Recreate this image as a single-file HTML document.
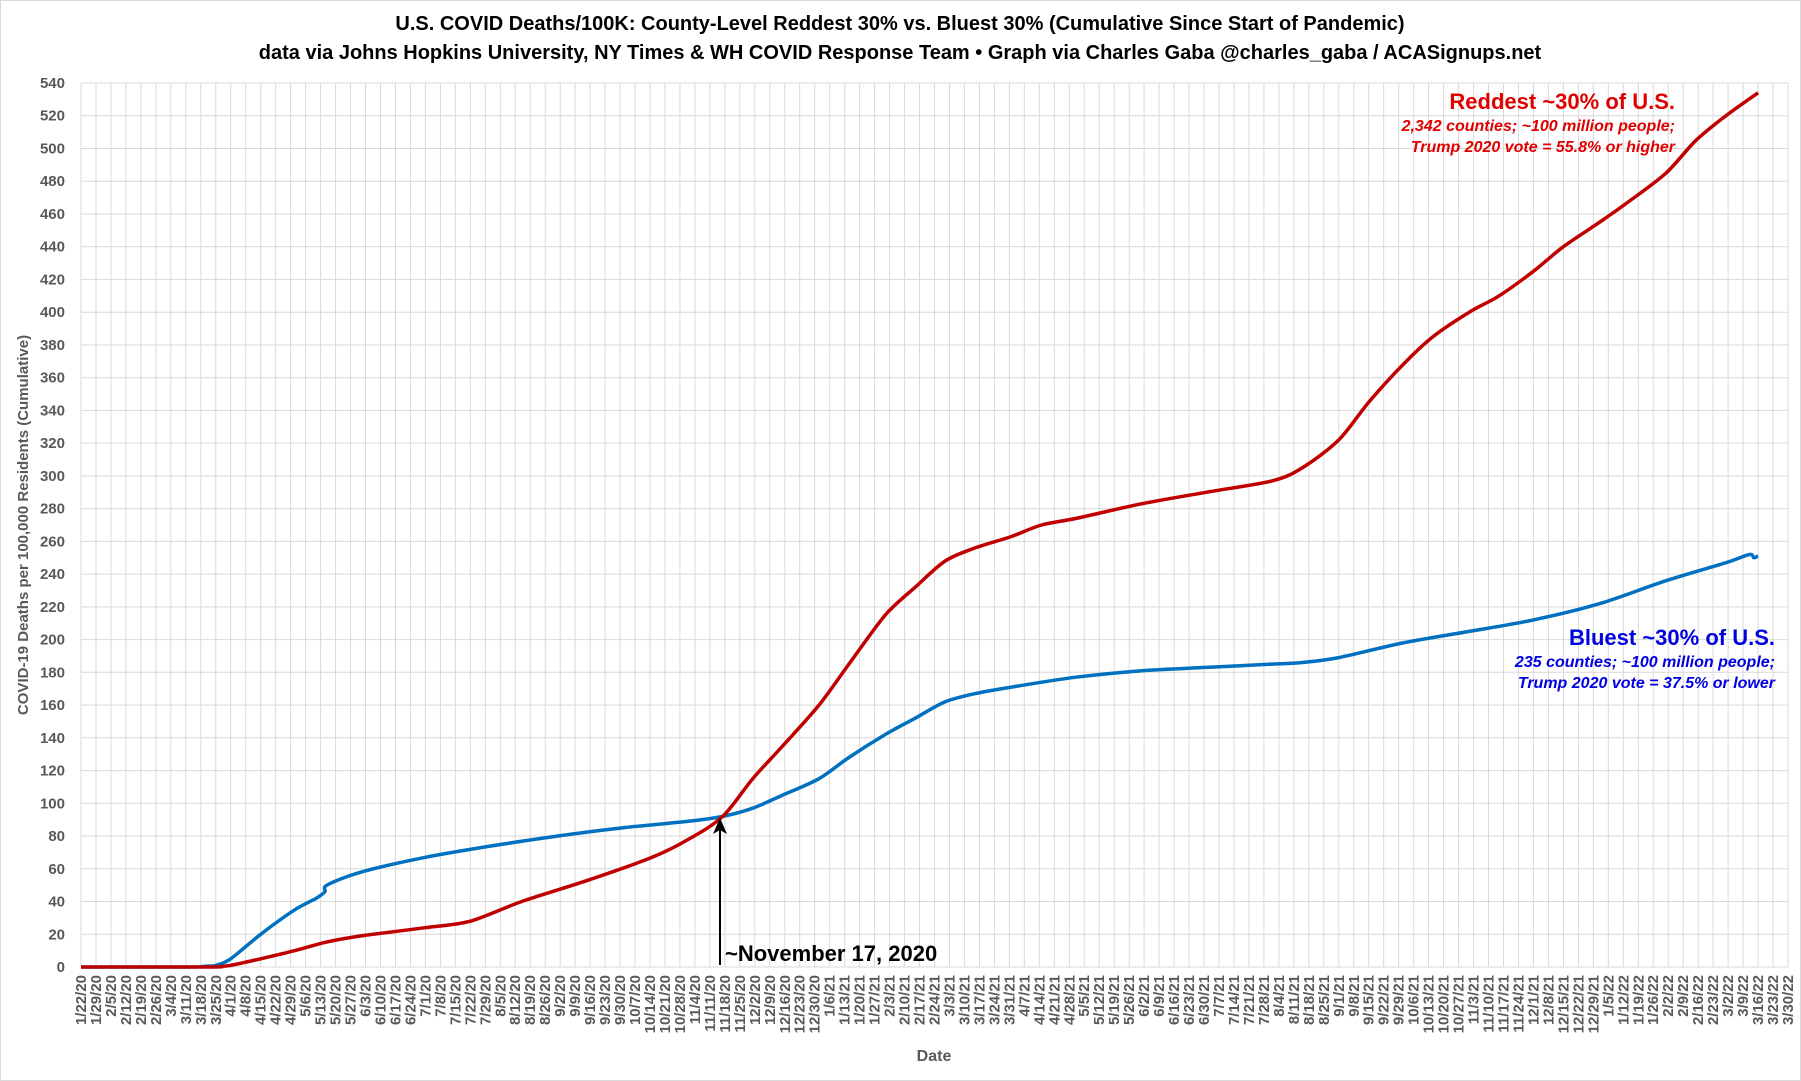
<!DOCTYPE html>
<html><head><meta charset="utf-8"><style>
html,body{margin:0;padding:0;background:#fff}
svg{display:block}
text{font-family:"Liberation Sans",sans-serif}
</style></head><body>
<svg id="s" width="1801" height="1081" xmlns="http://www.w3.org/2000/svg">
<rect x="0.5" y="0.5" width="1800" height="1080" fill="#fff" stroke="#d9d9d9"/>
<g id="grid" stroke="#d9d9d9" stroke-width="1"></g>
<g id="ylab" font-size="15" font-weight="bold" fill="#595959" text-anchor="end"></g>
<g id="xlab" font-size="15" font-weight="bold" fill="#595959" text-anchor="end" transform="rotate(-90)">
1/22/20,1/29/20,2/5/20,2/12/20,2/19/20,2/26/20,3/4/20,3/11/20,3/18/20,3/25/20,4/1/20,4/8/20,4/15/20,4/22/20,4/29/20,5/6/20,5/13/20,5/20/20,5/27/20,6/3/20,6/10/20,6/17/20,6/24/20,7/1/20,7/8/20,7/15/20,7/22/20,7/29/20,8/5/20,8/12/20,8/19/20,8/26/20,9/2/20,9/9/20,9/16/20,9/23/20,9/30/20,10/7/20,10/14/20,10/21/20,10/28/20,11/4/20,11/11/20,11/18/20,11/25/20,12/2/20,12/9/20,12/16/20,12/23/20,12/30/20,1/6/21,1/13/21,1/20/21,1/27/21,2/3/21,2/10/21,2/17/21,2/24/21,3/3/21,3/10/21,3/17/21,3/24/21,3/31/21,4/7/21,4/14/21,4/21/21,4/28/21,5/5/21,5/12/21,5/19/21,5/26/21,6/2/21,6/9/21,6/16/21,6/23/21,6/30/21,7/7/21,7/14/21,7/21/21,7/28/21,8/4/21,8/11/21,8/18/21,8/25/21,9/1/21,9/8/21,9/15/21,9/22/21,9/29/21,10/6/21,10/13/21,10/20/21,10/27/21,11/3/21,11/10/21,11/17/21,11/24/21,12/1/21,12/8/21,12/15/21,12/22/21,12/29/21,1/5/22,1/12/22,1/19/22,1/26/22,2/2/22,2/9/22,2/16/22,2/23/22,3/2/22,3/9/22,3/16/22,3/23/22,3/30/22</g>
<path id="blue" fill="none" stroke="#0070c0" stroke-width="3.5" stroke-linejoin="round"/>
<path id="red" fill="none" stroke="#c00000" stroke-width="3.5" stroke-linejoin="round"/>
<line x1="720" y1="965" x2="720" y2="826" stroke="#000" stroke-width="2"/>
<polygon points="720,818 713,834 720,830 727,834" fill="#000"/>
<text x="725" y="961" font-size="22" font-weight="bold">~November 17, 2020</text>
<text x="900" y="30" font-size="20" font-weight="bold" text-anchor="middle">U.S. COVID Deaths/100K: County-Level Reddest 30% vs. Bluest 30% (Cumulative Since Start of Pandemic)</text>
<text x="900" y="59" font-size="20" font-weight="bold" text-anchor="middle">data via Johns Hopkins University, NY Times &amp; WH COVID Response Team • Graph via Charles Gaba @charles_gaba / ACASignups.net</text>
<text x="1675" y="109" font-size="22" font-weight="bold" fill="#e00000" text-anchor="end">Reddest ~30% of U.S.</text>
<text x="1675" y="131" font-size="16" font-weight="bold" font-style="italic" fill="#e00000" text-anchor="end">2,342 counties; ~100 million people;</text>
<text x="1675" y="152" font-size="16" font-weight="bold" font-style="italic" fill="#e00000" text-anchor="end">Trump 2020 vote = 55.8% or higher</text>
<text x="1775" y="645" font-size="22" font-weight="bold" fill="#0000e0" text-anchor="end">Bluest ~30% of U.S.</text>
<text x="1775" y="667" font-size="16" font-weight="bold" font-style="italic" fill="#0000e0" text-anchor="end">235 counties; ~100 million people;</text>
<text x="1775" y="688" font-size="16" font-weight="bold" font-style="italic" fill="#0000e0" text-anchor="end">Trump 2020 vote = 37.5% or lower</text>
<text transform="translate(28,525) rotate(-90)" font-size="15" font-weight="bold" fill="#595959" text-anchor="middle">COVID-19 Deaths per 100,000 Residents (Cumulative)</text>
<text x="934" y="1061" font-size="16" font-weight="bold" fill="#595959" text-anchor="middle">Date</text>
</svg>
<script>
var L=81,R=1788,T=83,B=967;
var dx=(R-L)/114, py=(B-T)/540;
function X(d){return L+d*dx/7} function Y(v){return B-v*py}
var g=document.getElementById('grid'),s='';
for(var i=0;i<=114;i++){var x=(L+i*dx).toFixed(1);s+='<line x1="'+x+'" y1="'+T+'" x2="'+x+'" y2="'+B+'"/>';}
for(var v=0;v<=540;v+=20){var y=Y(v).toFixed(1);s+='<line x1="'+L+'" y1="'+y+'" x2="'+R+'" y2="'+y+'"/>';}
g.innerHTML=s;
var yl=document.getElementById('ylab');s='';
for(var v=0;v<=540;v+=20)s+='<text x="65" y="'+(Y(v)+5).toFixed(1)+'">'+v+'</text>';
yl.innerHTML=s;
var xl=document.getElementById('xlab');var labs=xl.textContent.trim().split(',');s='';
for(var i=0;i<labs.length;i++)s+='<text x="-975" y="'+(L+i*dx+5).toFixed(1)+'">'+labs[i]+'</text>';
xl.innerHTML=s;
var red=[[0,0],[60,0],[66,0.5],[70,1],[84,5],[100,10],[114,15],[131,19],[161,24],[182,28],[206,40],[237,53],[267,67],[284,78],[300,92],[314,115],[328,135],[345,160],[359,185],[376,215],[390,232],[404,248],[418,256],[435,263],[449,270],[465,274],[496,283],[526,290],[557,297],[571,305],[588,322],[602,345],[618,368],[632,385],[649,400],[663,410],[679,425],[693,440],[710,455],[724,468],[741,485],[755,505],[769,520],[784,534]];
var blue=[[0,0],[50,0],[58,0.5],[63,1],[70,5],[84,20],[100,35],[110,42],[114,46],[115,50],[131,58],[161,67],[192,74],[223,80],[253,85],[284,89],[300,92],[314,97],[328,105],[345,115],[359,128],[376,142],[390,152],[404,162],[418,167],[435,171],[465,177],[496,181],[526,183],[557,185],[571,186],[588,189],[618,198],[649,205],[679,212],[710,222],[741,236],[769,247],[780,252],[782,250],[784,251]];
function path(a){
 var p=a.map(function(q){return [X(q[0]),Y(q[1])]});
 var d='M'+p[0][0].toFixed(1)+','+p[0][1].toFixed(1);
 for(var i=0;i<p.length-1;i++){
  var p0=p[Math.max(0,i-1)],p1=p[i],p2=p[i+1],p3=p[Math.min(p.length-1,i+2)];
  var t=0.15;
  var c1x=p1[0]+(p2[0]-p0[0])*t,c1y=p1[1]+(p2[1]-p0[1])*t;
  var c2x=p2[0]-(p3[0]-p1[0])*t,c2y=p2[1]-(p3[1]-p1[1])*t;
  if(c1y>B)c1y=B;if(c2y>B)c2y=B;
  d+=' C'+c1x.toFixed(1)+','+c1y.toFixed(1)+' '+c2x.toFixed(1)+','+c2y.toFixed(1)+' '+p2[0].toFixed(1)+','+p2[1].toFixed(1);
 }
 return d;
}
document.getElementById('red').setAttribute('d',path(red));
document.getElementById('blue').setAttribute('d',path(blue));
</script>
</body></html>
